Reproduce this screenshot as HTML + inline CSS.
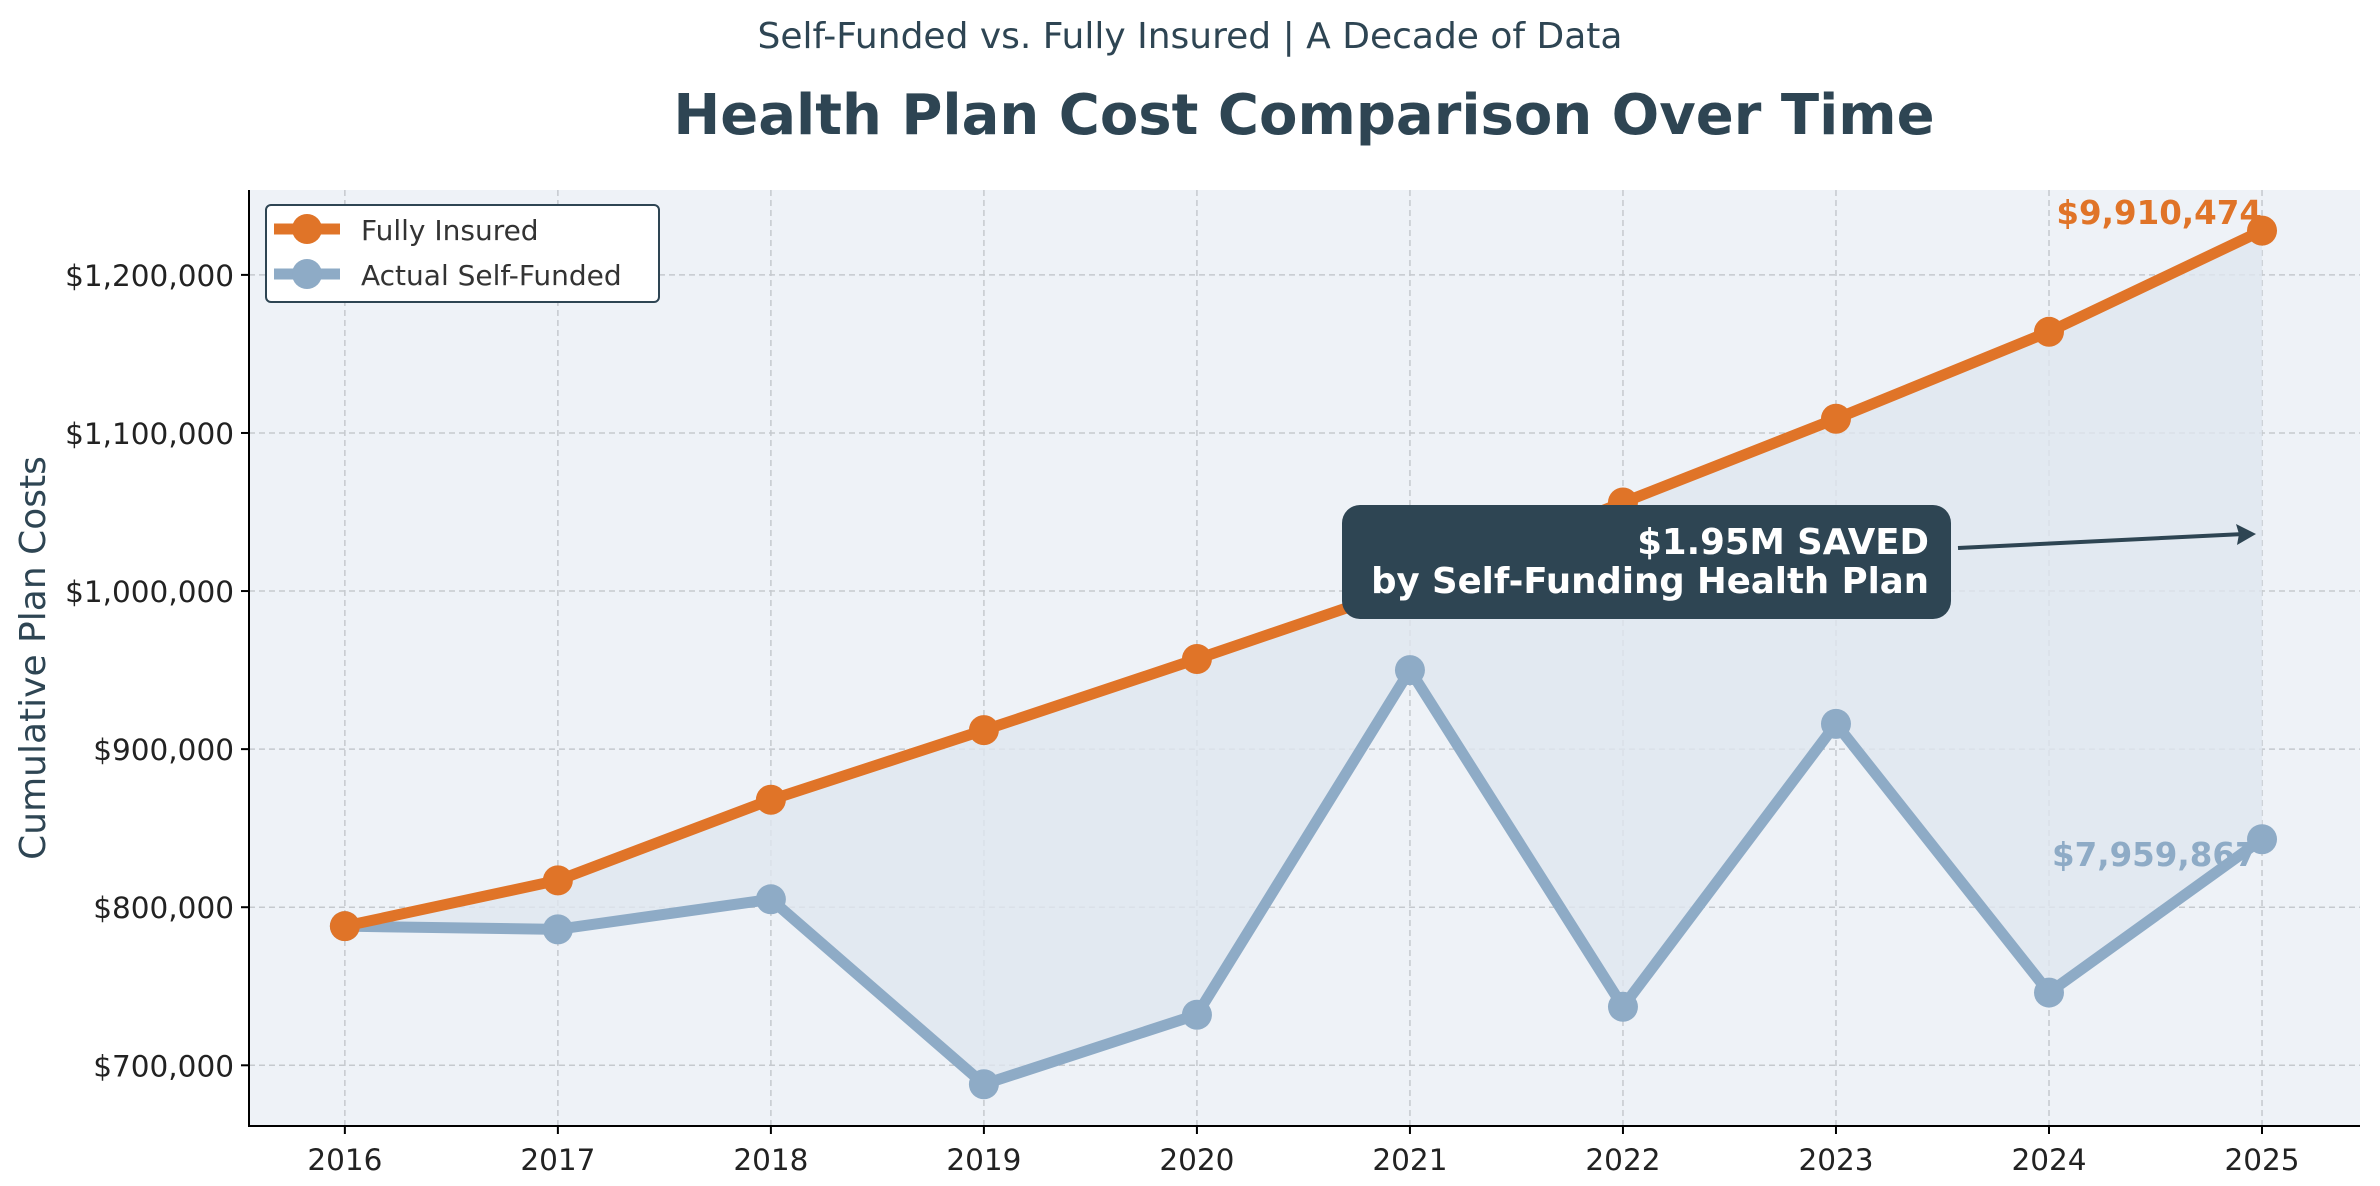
<!DOCTYPE html>
<html><head><meta charset="utf-8"><style>
html,body{margin:0;padding:0;background:#fff}
svg{display:block;font-family:"DejaVu Sans","Liberation Sans",sans-serif}
</style></head><body>
<svg id="chart" width="2380" height="1186" viewBox="0 0 2380 1186">
<text x="1190" y="48" text-anchor="middle" font-size="36" fill="#2e4553">Self-Funded vs. Fully Insured | A Decade of Data</text>
<text x="1304" y="134" text-anchor="middle" font-size="56" font-weight="bold" fill="#2e4553">Health Plan Cost Comparison Over Time</text>
<rect x="249" y="190" width="2111" height="936" fill="#eef2f7"/>
<g id="grid"></g><g id="fill"></g><g id="lines"></g><g id="ticks"></g>
<line x1="249" y1="190" x2="249" y2="1127" stroke="#000" stroke-width="2"/>
<line x1="248" y1="1126" x2="2360" y2="1126" stroke="#000" stroke-width="2"/>
<text transform="translate(45,658) rotate(-90)" text-anchor="middle" font-size="36" fill="#2e4553">Cumulative Plan Costs</text>
<g>
<line x1="1958" y1="548" x2="2244" y2="534" stroke="#2e4553" stroke-width="4"/>
<path d="M2256,534 L2236,524 L2239,534 L2237,545 Z" fill="#2e4553"/>
<rect x="1342" y="505" width="609" height="114" rx="18" fill="#2e4553"/>
<text x="1929" y="554" text-anchor="end" font-size="35.5" font-weight="bold" fill="#fff">$1.95M SAVED</text>
<text x="1929" y="593" text-anchor="end" font-size="35.5" font-weight="bold" fill="#fff">by Self-Funding Health Plan</text>
</g>
<text x="2262" y="224" text-anchor="end" font-size="32.5" font-weight="bold" fill="#e07428">$9,910,474</text>
<text x="2052" y="866" font-size="32.5" font-weight="bold" fill="#8eabc6">$7,959,867</text>
<g>
<rect x="266" y="205" width="393" height="97" rx="5" fill="#fff" stroke="#2e4553" stroke-width="2"/>
<line x1="274" y1="229" x2="340" y2="229" stroke="#e07428" stroke-width="11"/>
<circle cx="307" cy="229" r="15" fill="#e07428"/>
<text x="361" y="240" font-size="28" fill="#333">Fully Insured</text>
<line x1="274" y1="274" x2="340" y2="274" stroke="#8eabc6" stroke-width="11"/>
<circle cx="307" cy="274" r="15" fill="#8eabc6"/>
<text x="361" y="285" font-size="28" fill="#333">Actual Self-Funded</text>
</g>
</svg>
<script>
const years=[2016,2017,2018,2019,2020,2021,2022,2023,2024,2025];
const fullyInsured=[788000,817000,868000,912000,957000,1003000,1056000,1109000,1164000,1228000];
const selfFunded=[788000,786000,805000,688000,732000,950000,737000,916000,746000,843000];
const yTicks=[700000,800000,900000,1000000,1100000,1200000];
const NS="http://www.w3.org/2000/svg";
const L=249,R=2360,T=190,B=1126;
const x0=2015.55,x1=2025.46,y0=661600,y1=1253700;
const X=v=>L+(v-x0)/(x1-x0)*(R-L);
const Y=v=>B-(v-y0)/(y1-y0)*(B-T);
function mk(tag,attrs,parent){const e=document.createElementNS(NS,tag);for(const k in attrs)e.setAttribute(k,attrs[k]);parent.appendChild(e);return e;}
const grid=document.getElementById('grid'),ticks=document.getElementById('ticks'),lines=document.getElementById('lines'),fill=document.getElementById('fill');
years.forEach(y=>{
  const g=mk('line',{x1:X(y),x2:X(y),y1:T,y2:B,stroke:'#c5c9ce','stroke-width':1.5,'stroke-dasharray':'6,4'},grid);
  
  
  const tk=mk('line',{x1:X(y),x2:X(y),y1:B,y2:B+8,stroke:'#000','stroke-width':2},ticks);
  
  
  const t=mk('text',{x:X(y),y:B+44,'text-anchor':'middle','font-size':29.5,fill:'#222'},ticks);
  t.textContent=y;
  
  
});
yTicks.forEach(v=>{
  const g=mk('line',{x1:L,x2:R,y1:Y(v),y2:Y(v),stroke:'#c5c9ce','stroke-width':1.5,'stroke-dasharray':'6,4'},grid);
  
  
  const tk=mk('line',{x1:L-8,x2:L,y1:Y(v),y2:Y(v),stroke:'#000','stroke-width':2},ticks);
  
  
  const t=mk('text',{x:L-15,y:Y(v)+11,'text-anchor':'end','font-size':29.5,fill:'#222'},ticks);
  t.textContent='$'+v.toLocaleString('en-US');
  
  
});
let d='';
years.forEach((y,i)=>{d+=(i?'L':'M')+X(y)+','+Y(fullyInsured[i]);});
for(let i=years.length-1;i>=0;i--)d+='L'+X(years[i])+','+Y(selfFunded[i]);
const f=mk('path',{d:d+'Z',fill:'#dfe6ef',opacity:0.8},fill);


function series(vals,color,name){
  const pts=years.map((y,i)=>X(y)+','+Y(vals[i])).join(' ');
  const p=mk('polyline',{points:pts,fill:'none',stroke:color,'stroke-width':11,'stroke-linejoin':'round'},lines);
  
  
  years.forEach((y,i)=>{
    const c=mk('circle',{cx:X(y),cy:Y(vals[i]),r:15,fill:color},lines);
    
    
  });
}
series(selfFunded,'#8eabc6','self-funded');
series(fullyInsured,'#e07428','fully-insured');
</script>
</body></html>
